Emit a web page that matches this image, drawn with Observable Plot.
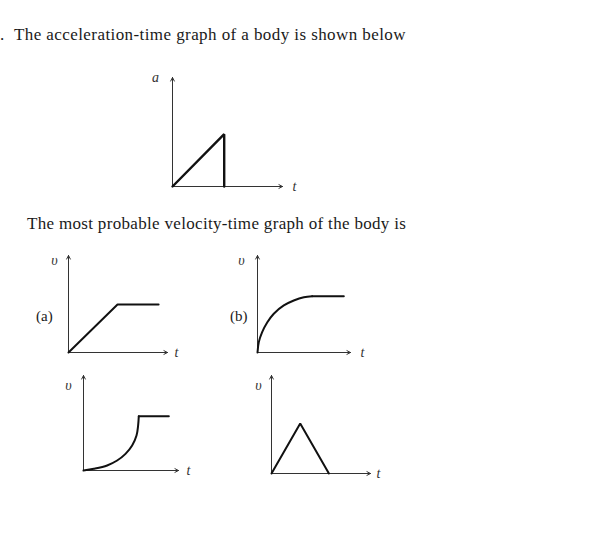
<!DOCTYPE html>
<html>
<head>
<meta charset="utf-8">
<script src="https://cdn.jsdelivr.net/npm/d3@7"></script>
<script src="https://cdn.jsdelivr.net/npm/@observablehq/plot@0.6"></script>
<style>
  html, body { margin: 0; padding: 0; background: #fff; }
  #page { position: relative; width: 606px; height: 542px; overflow: hidden; font-family: "Liberation Serif", serif; color: #1a1a1a; }
  .txt { position: absolute; white-space: nowrap; line-height: 1; }
  .g { position: absolute; }
</style>
</head>
<body>
<div id="page"></div>
<script>
// ---- data ----
const questionText = "The acceleration-time graph of a body is shown below";
const promptText = "The most probable velocity-time graph of the body is";
const optionLabels = ["(a)", "(b)"];
const axisMax = 10;

// acceleration-time graph
const accT = [0, 4.7, 4.7];
const accA = [0, 4.8, 0];

// option (a): ramp then constant
const vaT = [0, 4.95, 9.1];
const vaV = [0, 4.95, 4.95];

// option (b): concave rise then constant
const vbCurveT = [0, 0.14, 0.5, 1.04, 1.75, 2.83, 3.9, 4.98, 5.88];
const vbCurveV = [0, 1.07, 2.1, 3.1, 4.0, 4.85, 5.36, 5.7, 5.8];
const vbFlatT = [5.88, 9.28];
const vbFlatV = [5.8, 5.8];

// option (c): convex rise then constant
const vcCurveT = [0, 1.09, 2.49, 3.54, 4.42, 5.12, 5.58, 5.75, 5.82];
const vcCurveV = [0, 0.18, 0.53, 1.05, 1.75, 2.63, 3.68, 4.74, 5.72];
const vcFlatT = [5.82, 8.98];
const vcFlatV = [5.72, 5.72];

// option (d): triangle
const vdT = [0, 2.9, 5.8];
const vdV = [0, 5.1, 0];

// ---- helpers ----
const zip = (xs, ys) => xs.map((x, i) => ({x, y: ys[i]}));
const page = document.getElementById("page");

function addText(str, left, baseline, size, extra = {}) {
  const d = document.createElement("div");
  d.className = "txt";
  d.textContent = str;
  d.style.left = left + "px";
  d.style.top = (baseline - size * 0.86) + "px";
  d.style.fontSize = size + "px";
  Object.assign(d.style, extra);
  page.appendChild(d);
  return d;
}

function graph(cfg) {
  const ml = 30, mr = 24, mt = 14, mb = 10;
  const axes = [
    {x1: 0, y1: 0, x2: axisMax, y2: 0},
    {x1: 0, y1: 0, x2: 0, y2: axisMax}
  ];
  const lab = {fontStyle: "italic", fontSize: 14, fontFamily: "Liberation Serif", fill: "#333"};
  const marks = [
    Plot.arrow(axes, {x1: "x1", y1: "y1", x2: "x2", y2: "y2", stroke: "#333", strokeWidth: 1, headLength: 6, headAngle: 55})
  ];
  for (const seg of cfg.segments) {
    marks.push(Plot.line(seg.data, {x: "x", y: "y", stroke: "#111", strokeWidth: cfg.sw || 2, curve: seg.curve || "linear", strokeLinejoin: "miter"}));
  }
  marks.push(Plot.text([cfg.yLabel], {x: 0, y: axisMax, text: d => d, dx: cfg.ydx, dy: cfg.ydy, ...lab}));
  marks.push(Plot.text(["t"], {x: axisMax, y: 0, text: d => d, dx: cfg.tdx, dy: 0, ...lab}));
  const svg = Plot.plot({
    width: cfg.w + ml + mr,
    height: cfg.h + mt + mb,
    marginLeft: ml, marginRight: mr, marginTop: mt, marginBottom: mb,
    x: {domain: [0, axisMax], axis: null},
    y: {domain: [0, axisMax], axis: null},
    style: {overflow: "visible", background: "transparent"},
    marks
  });
  const wrap = document.createElement("div");
  wrap.className = "g";
  wrap.style.left = (cfg.ox - ml) + "px";
  wrap.style.top = (cfg.oy - cfg.h - mt) + "px";
  wrap.appendChild(svg);
  page.appendChild(wrap);
}

// ---- texts ----
addText(".", 0, 40.5, 17);
addText(questionText, 14, 40.5, 17, {letterSpacing: "0.42px"});
addText(promptText, 27, 229.5, 17, {letterSpacing: "0.32px"});
addText(optionLabels[0], 36, 322, 15);
addText(optionLabels[1], 230, 322, 15);

// ---- graphs ----
graph({ox: 172, oy: 186, w: 110, h: 109, yLabel: "a", ydx: -17, ydy: 0, tdx: 12, sw: 2.4,
  segments: [{data: zip(accT, accA)}]});
graph({ox: 68, oy: 352, w: 99, h: 97, yLabel: "υ", ydx: -14, ydy: 5, tdx: 9,
  segments: [{data: zip(vaT, vaV)}]});
graph({ox: 257, oy: 352, w: 93, h: 97, yLabel: "υ", ydx: -16, ydy: 5, tdx: 12,
  segments: [{data: zip(vbCurveT, vbCurveV), curve: "catmull-rom"}, {data: zip(vbFlatT, vbFlatV)}]});
graph({ox: 83, oy: 470, w: 95, h: 95, yLabel: "υ", ydx: -15, ydy: 10, tdx: 10,
  segments: [{data: zip(vcCurveT, vcCurveV), curve: "catmull-rom"}, {data: zip(vcFlatT, vcFlatV)}]});
graph({ox: 271, oy: 473, w: 99, h: 98, yLabel: "υ", ydx: -13, ydy: 10, tdx: 8,
  segments: [{data: zip(vdT, vdV)}]});
</script>
</body>
</html>
